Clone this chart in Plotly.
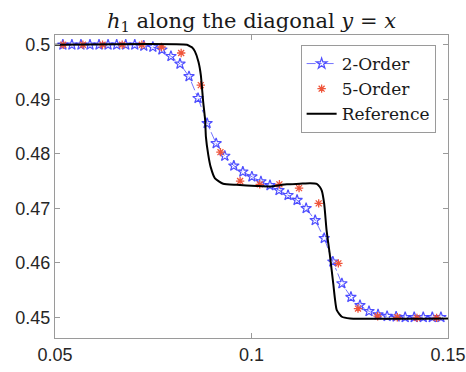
import plotly.graph_objects as go

# 2-Order (blue stars)
x2 = [0.0520, 0.0543, 0.0566, 0.0589, 0.0612, 0.0635, 0.0657, 0.0680, 0.0703, 0.0726,
      0.0749, 0.0772, 0.0795, 0.0818, 0.0841, 0.0864, 0.0887, 0.0910, 0.0932, 0.0955,
      0.0978, 0.1001, 0.1024, 0.1047, 0.1070, 0.1093, 0.1116, 0.1139, 0.1162, 0.1185,
      0.1207, 0.1230, 0.1253, 0.1276, 0.1299, 0.1322, 0.1345, 0.1368, 0.1391, 0.1414,
      0.1437, 0.1460, 0.1482]
y2 = [0.5000, 0.5000, 0.5000, 0.5000, 0.5000, 0.5000, 0.5000, 0.5000, 0.5000, 0.4998,
      0.4996, 0.4991, 0.4979, 0.4965, 0.4942, 0.4902, 0.4856, 0.4819, 0.4796, 0.4778,
      0.4767, 0.4758, 0.4749, 0.4742, 0.4733, 0.4724, 0.4715, 0.4700, 0.4678, 0.4645,
      0.4602, 0.4562, 0.4537, 0.4522, 0.4511, 0.4505, 0.4502, 0.4501, 0.4500, 0.4500,
      0.4500, 0.4500, 0.4500]

# 5-Order (red asterisks)
x5 = [0.0521, 0.0571, 0.0621, 0.0671, 0.0721, 0.0771, 0.0821, 0.0871, 0.0921, 0.0971,
      0.1021, 0.1071, 0.1121, 0.1171, 0.1221, 0.1271, 0.1321, 0.1371, 0.1421, 0.1471]
y5 = [0.5000, 0.5000, 0.5000, 0.5000, 0.5000, 0.4996, 0.4985, 0.4926, 0.4803, 0.4750,
      0.4744, 0.4744, 0.4737, 0.4709, 0.4599, 0.4516, 0.4502, 0.4500, 0.4499, 0.4499]

# Reference (black line)
xr = [0.0500, 0.0836, 0.0844, 0.0849, 0.0856, 0.0865, 0.0871, 0.0877, 0.0882, 0.0884,
      0.0890, 0.0896, 0.0907, 0.0928, 0.0962, 0.1013, 0.1047, 0.1090, 0.1123, 0.1149,
      0.1166, 0.1174, 0.1179, 0.1185, 0.1191, 0.1200, 0.1208, 0.1217, 0.1230, 0.1251,
      0.1500]
yr = [0.5000, 0.5000, 0.4997, 0.4995, 0.4988, 0.4969, 0.4945, 0.4896, 0.4862, 0.4831,
      0.4798, 0.4776, 0.4755, 0.4745, 0.4743, 0.4741, 0.4740, 0.4744, 0.4745, 0.4746,
      0.4745, 0.4739, 0.4732, 0.4708, 0.4660, 0.4611, 0.4562, 0.4513, 0.4501, 0.4498,
      0.4498]

xticks = [0.05, 0.1, 0.15]
xticklabels = ["0.05", "0.1", "0.15"]
yticks = [0.45, 0.46, 0.47, 0.48, 0.49, 0.5]
yticklabels = ["0.45", "0.46", "0.47", "0.48", "0.49", "0.5"]

fig = go.Figure()
fig.add_trace(go.Scatter(
    x=x2, y=y2, mode="lines+markers", name="2-Order",
    line=dict(color="rgba(80,80,255,0.8)", width=1, dash="dashdot"),
    marker=dict(symbol="star-open", size=8, color="rgba(60,60,255,0.9)",
                line=dict(width=1.2, color="rgba(60,60,255,0.9)")),
))
fig.add_trace(go.Scatter(
    x=x5, y=y5, mode="markers", name="5-Order",
    marker=dict(symbol="asterisk-open", size=7,
                line=dict(width=1.3, color="rgba(255,40,40,0.85)")),
))
fig.add_trace(go.Scatter(
    x=xr, y=yr, mode="lines", name="Reference",
    line=dict(color="black", width=2, shape="spline", smoothing=0.5),
))

axis_common = dict(
    showline=True, linecolor="#9a9a9a", linewidth=1, mirror="ticks",
    ticks="inside", ticklen=5, tickcolor="#9a9a9a", showgrid=False, zeroline=False,
    automargin=False,
    tickfont=dict(family="Liberation Sans, Arial, sans-serif", size=18, color="#262626"),
)

fig.update_layout(
    width=466, height=372,
    margin=dict(l=55, r=18, t=35, b=34),
    paper_bgcolor="white", plot_bgcolor="white",
    title=dict(
        text="<i>h</i><sub>1</sub> along the diagonal <i>y</i> = <i>x</i>",
        font=dict(family="DejaVu Serif, serif", size=21, color="#1a1a1a"),
        x=0.5, xref="paper", xanchor="center",
        y=0.945, yref="container", yanchor="middle",
    ),
    xaxis=dict(range=[0.05, 0.15], tickvals=xticks, ticktext=xticklabels, **axis_common),
    yaxis=dict(range=[0.4462, 0.5018], tickvals=yticks, ticktext=yticklabels, **axis_common),
    legend=dict(
        x=0.625, y=0.967, xanchor="left", yanchor="top",
        bgcolor="white", bordercolor="#9a9a9a", borderwidth=1,
        font=dict(family="DejaVu Serif, serif", size=17, color="#1a1a1a"),
        tracegroupgap=0, itemwidth=30,
    ),
    showlegend=True,
)

fig.write_html("out.html")
